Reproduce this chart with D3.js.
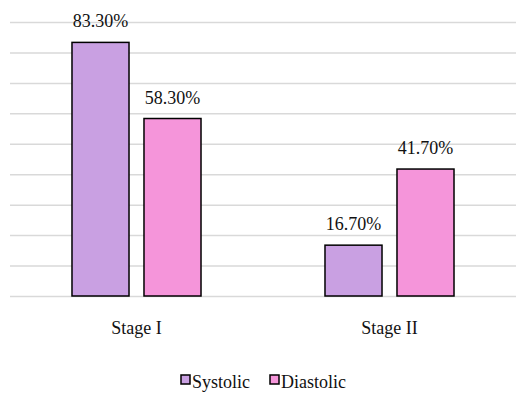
<!DOCTYPE html>
<html>
<head>
<meta charset="utf-8">
<script src="https://cdn.jsdelivr.net/npm/d3@7"></script>
<style>
  body { margin: 0; background: #fff; }
  .grid line { stroke: #d9d9d9; stroke-width: 1.5; }
  .grid path { display: none; }
</style>
</head>
<body>
<div class="chart"></div>
<script>
// data
var stages = ['Stage I', 'Stage II'];
var seriesNames = ['Systolic', 'Diastolic'];
var systolic = [83.3, 16.7];
var diastolic = [58.3, 41.7];
var seriesColors = ['#c9a0e2', '#f595da'];
var yTicks = [0, 10, 20, 30, 40, 50, 60, 70, 80, 90];

var fontStack = "'Liberation Serif', Tinos, 'Times New Roman', serif";
var width = 517, height = 394;
var plot = {left: 10, right: 516, top: 22, bottom: 296};

var svg = d3.select('.chart')
  .append('svg')
  .attr('width', width)
  .attr('height', height)
  .attr('font-family', fontStack);

// scales
var x0 = d3.scaleBand()
  .domain(stages)
  .range([plot.left, plot.right]);

var x1 = d3.scaleBand()
  .domain(seriesNames)
  .range([0, x0.bandwidth()])
  .paddingInner(0.208)
  .paddingOuter(0.861);

var y = d3.scaleLinear()
  .domain([0, 90])
  .range([plot.bottom, plot.top]);

var color = d3.scaleOrdinal().domain(seriesNames).range(seriesColors);

// gridlines
svg.append('g')
  .attr('class', 'grid')
  .attr('transform', 'translate(' + plot.left + ',0)')
  .call(d3.axisLeft(y)
    .tickValues(yTicks)
    .tickSize(-(plot.right - plot.left))
    .tickFormat(''));

var rows = stages.map(function(s, i) {
  return {stage: s, values: [
    {key: 'Systolic', value: systolic[i]},
    {key: 'Diastolic', value: diastolic[i]}
  ]};
});

var groups = svg.selectAll('.group')
  .data(rows)
  .enter().append('g')
  .attr('class', 'group')
  .attr('transform', function(d) { return 'translate(' + x0(d.stage) + ',0)'; });

groups.selectAll('rect')
  .data(function(d) { return d.values; })
  .enter().append('rect')
  .attr('x', function(d) { return x1(d.key); })
  .attr('y', function(d) { return y(d.value); })
  .attr('width', x1.bandwidth())
  .attr('height', function(d) { return y(0) - y(d.value); })
  .attr('fill', function(d) { return color(d.key); })
  .attr('stroke', '#000')
  .attr('stroke-width', 1.5);

// value labels
groups.selectAll('.label')
  .data(function(d) { return d.values; })
  .enter().append('text')
  .attr('class', 'label')
  .attr('x', function(d) { return x1(d.key) + x1.bandwidth() / 2; })
  .attr('y', function(d) { return y(d.value) - 15; })
  .attr('text-anchor', 'middle')
  .attr('font-family', fontStack)
  .attr('font-size', 18)
  .attr('fill', '#111')
  .text(function(d) { return d.value.toFixed(2) + '%'; });

// category axis
var xAxis = svg.append('g')
  .attr('transform', 'translate(0,' + plot.bottom + ')')
  .call(d3.axisBottom(x0).tickSize(0).tickPadding(25));
xAxis.attr('font-family', fontStack).attr('font-size', 18);
xAxis.select('.domain').remove();
xAxis.selectAll('text').attr('fill', '#111');

// legend
var legendX = [181, 270];
var legend = svg.selectAll('.legend')
  .data(seriesNames)
  .enter().append('g')
  .attr('class', 'legend')
  .attr('transform', function(d, i) { return 'translate(' + legendX[i] + ',375)'; });

legend.append('rect')
  .attr('width', 9)
  .attr('height', 9)
  .attr('fill', function(d) { return color(d); })
  .attr('stroke', '#000')
  .attr('stroke-width', 1.5);

legend.append('text')
  .attr('x', 11)
  .attr('y', 13)
  .attr('font-family', fontStack)
  .attr('font-size', 18)
  .attr('fill', '#111')
  .text(function(d) { return d; });
</script>
</body>
</html>
